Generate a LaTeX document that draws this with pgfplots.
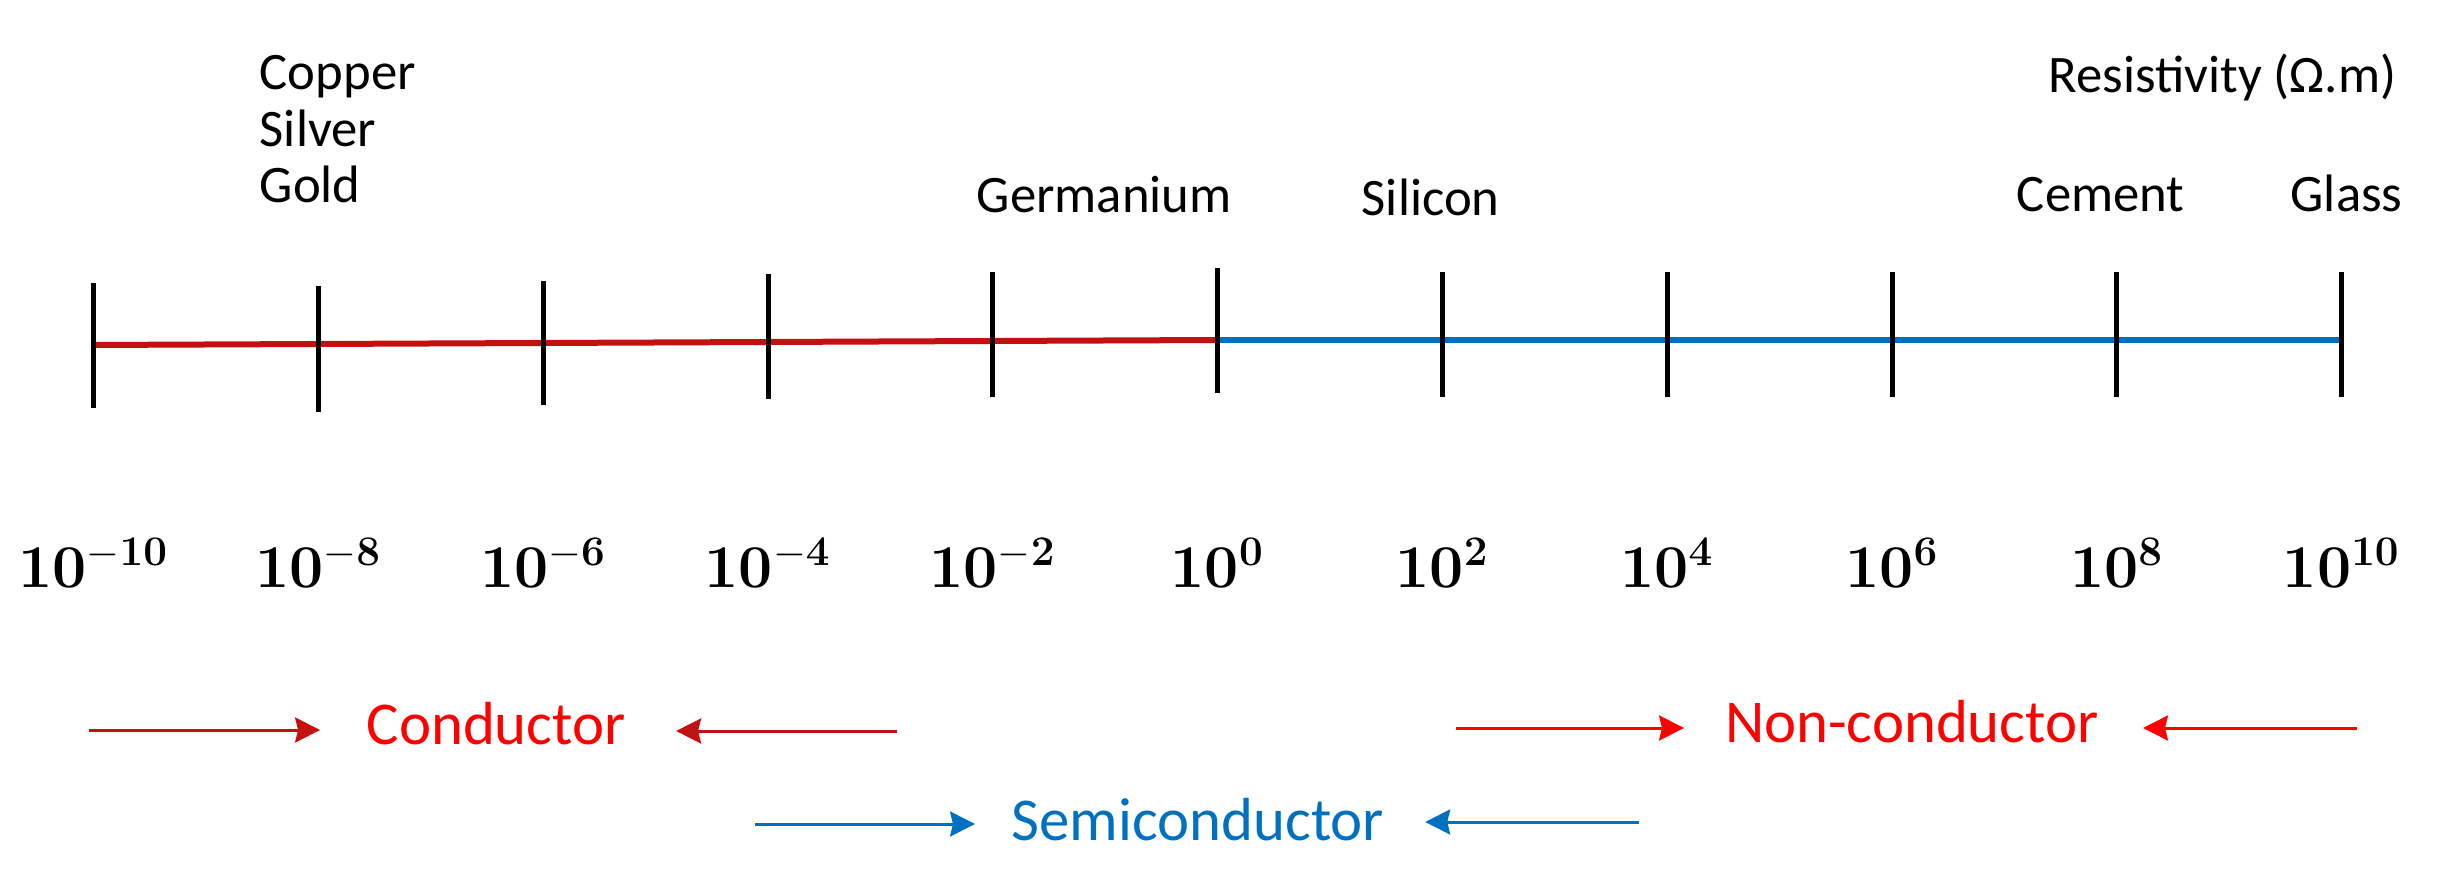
\documentclass[border=0pt]{standalone}
\usepackage{pgfplots}
\pgfplotsset{compat=1.18}
\usepackage[no-math]{fontspec}
\setmainfont{Carlito}
\usetikzlibrary{arrows.meta}
\definecolor{cred}{RGB}{255,0,0}
\definecolor{dred}{RGB}{196,16,16}
\definecolor{cblue}{RGB}{0,112,192}
\tikzset{myarr/.style={-{Stealth[length=0.25cm,width=0.25cm,inset=0.03cm]}}}
\newcommand{\mytick}[1]{\fontsize{16.5}{19}\selectfont$\mathbf{10}^{\mathbf{#1}}$}
\newcommand{\mylab}{\fontsize{15}{18}\selectfont}
\newcommand{\mycls}{\fontsize{17.3}{20}\selectfont}
\begin{document}
\begin{tikzpicture}
\begin{axis}[
  scale only axis, width=24.57cm, height=8.81cm,
  hide axis, clip=false,
  xmin=-10.834, xmax=11.026,
  ymin=0, ymax=881, y dir=reverse,
  unbounded coords=jump,
]
\addplot[draw=none, no marks] coordinates {(-10.834,0) (11.026,881)};
\addplot[dred, line width=0.06cm, no marks] coordinates {(-10,345) (0,340)};
\addplot[cblue, line width=0.06cm, no marks] coordinates {(0,340) (10,340)};
\addplot[black, line width=0.05cm, no marks] coordinates {
 (-10,283) (-10,408) (nan,nan)
 (-8,286) (-8,412) (nan,nan)
 (-6,281) (-6,405) (nan,nan)
 (-4,274) (-4,399) (nan,nan)
 (-2,272) (-2,397) (nan,nan)
 (0,268) (0,393) (nan,nan)
 (2,272) (2,397) (nan,nan)
 (4,272) (4,397) (nan,nan)
 (6,272) (6,397) (nan,nan)
 (8,272) (8,397) (nan,nan)
 (10,272) (10,397)
};
\addplot[dred, line width=0.03cm, no marks, myarr] coordinates {(-10.041,730) (-7.986,730)};
\addplot[dred, line width=0.03cm, no marks, myarr] coordinates {(-2.852,731) (-4.819,731)};
\addplot[cred, line width=0.03cm, no marks, myarr] coordinates {(2.120,728) (4.149,728)};
\addplot[cred, line width=0.03cm, no marks, myarr] coordinates {(10.136,728) (8.232,728)};
\addplot[cblue, line width=0.03cm, no marks, myarr] coordinates {(-4.116,824) (-2.159,824)};
\addplot[cblue, line width=0.03cm, no marks, myarr] coordinates {(3.749,822) (1.846,822)};
\node[anchor=base, inner sep=0pt] at (axis cs:-10,588) {\mytick{-10}};
\node[anchor=base, inner sep=0pt] at (axis cs:-8,588) {\mytick{-8}};
\node[anchor=base, inner sep=0pt] at (axis cs:-6,588) {\mytick{-6}};
\node[anchor=base, inner sep=0pt] at (axis cs:-4,588) {\mytick{-4}};
\node[anchor=base, inner sep=0pt] at (axis cs:-2,588) {\mytick{-2}};
\node[anchor=base, inner sep=0pt] at (axis cs:0,588) {\mytick{0}};
\node[anchor=base, inner sep=0pt] at (axis cs:2,588) {\mytick{2}};
\node[anchor=base, inner sep=0pt] at (axis cs:4,588) {\mytick{4}};
\node[anchor=base, inner sep=0pt] at (axis cs:6,588) {\mytick{6}};
\node[anchor=base, inner sep=0pt] at (axis cs:8,588) {\mytick{8}};
\node[anchor=base, inner sep=0pt] at (axis cs:10,588) {\mytick{10}};
\node[anchor=base west, inner sep=0pt] at (axis cs:-8.529,90) {\mylab Copper};
\node[anchor=base west, inner sep=0pt] at (axis cs:-8.529,147) {\mylab Silver};
\node[anchor=base west, inner sep=0pt] at (axis cs:-8.529,203) {\mylab Gold};
\node[anchor=base west, inner sep=0pt] at (axis cs:-2.149,213) {\mylab Germanium};
\node[anchor=base west, inner sep=0pt] at (axis cs:1.275,216) {\mylab Silicon};
\node[anchor=base west, inner sep=0pt] at (axis cs:7.104,212) {\mylab Cement};
\node[anchor=base west, inner sep=0pt] at (axis cs:9.540,212) {\mylab Glass};
\node[anchor=base east, inner sep=0pt] at (axis cs:10.492,93) {\mylab Resistivity (\symbol{"03A9}.m)};
\node[anchor=base west, inner sep=0pt, text=cred] at (axis cs:-7.578,744) {\mycls Conductor};
\node[anchor=base west, inner sep=0pt, text=cred] at (axis cs:4.507,742) {\mycls Non-conductor};
\node[anchor=base west, inner sep=0pt, text=cblue] at (axis cs:-1.839,840) {\mycls Semiconductor};
\end{axis}
\end{tikzpicture}
\end{document}
